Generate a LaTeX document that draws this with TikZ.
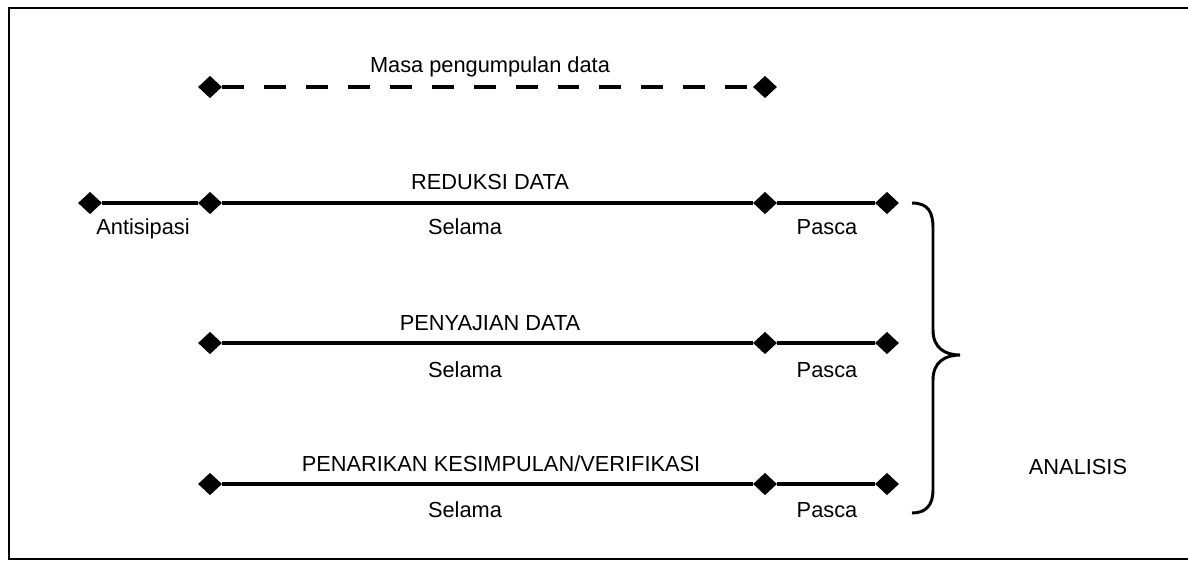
\documentclass[tikz,border=0pt]{standalone}
\usepackage{fontspec}
\setmainfont{Liberation Sans}
\usetikzlibrary{shapes.geometric}

\begin{document}
\begin{tikzpicture}[x=0.025cm,y=-0.025cm]
                \tikzset{point/.style = {shape=diamond,fill=black,inner sep=0pt,minimum width=0.6cm,minimum height=0.56cm}}
                \tikzset{line/.style = {line width=3pt}}
                \tikzset{label/.style = {anchor=base,inner sep=0pt,font=\fontsize{15.5}{18}\selectfont}}
                \useasboundingbox (0,0) rectangle (1188,561);
                % frame
                \draw[line width=2.1pt] (1188,8) -- (9,8) -- (9,559) -- (1188,559);

                % vertices
                \node[point] (d1) at (210,87) {};
                \node[point] (d2) at (765,87) {};
                \node[point] (r0) at (90,203) {};
                \node[point] (r1) at (210,203) {};
                \node[point] (r2) at (765,203) {};
                \node[point] (r3) at (887,203) {};
                \node[point] (p1) at (210,343) {};
                \node[point] (p2) at (765,343) {};
                \node[point] (p3) at (887,343) {};
                \node[point] (k1) at (210,484) {};
                \node[point] (k2) at (765,484) {};
                \node[point] (k3) at (887,484) {};

                % labels
                \node[label] (masa) at (490,72) {Masa pengumpulan data};
                \node[label] (reduksi) at (490,189) {REDUKSI DATA};
                \node[label] (antisipasi) at (143,234) {Antisipasi};
                \node[label] (selama1) at (465,234) {Selama};
                \node[label] (pasca1) at (827,234) {Pasca};
                \node[label] (penyajian) at (490,330) {PENYAJIAN DATA};
                \node[label] (selama2) at (465,377) {Selama};
                \node[label] (pasca2) at (827,377) {Pasca};
                \node[label] (penarikan) at (501,471) {PENARIKAN KESIMPULAN/VERIFIKASI};
                \node[label] (selama3) at (465,517) {Selama};
                \node[label] (pasca3) at (827,517) {Pasca};
                \node[label] (analisis) at (1078,474) {ANALISIS};

                %edges
                \draw[line width=3.5pt, dash pattern=on 15.6pt off 14.2pt] (d1) to (d2);
                \draw[line] (r0) to (r1);
                \draw[line] (r1) to (r2);
                \draw[line] (r2) to (r3);
                \draw[line] (p1) to (p2);
                \draw[line] (p2) to (p3);
                \draw[line] (k1) to (k2);
                \draw[line] (k2) to (k3);

                % brace
                \draw[line width=2.1pt] (912,203) .. controls (928,203) and (933,212) .. (933,228)
                    -- (933,330) .. controls (933,348) and (945,355) .. (960,355)
                    .. controls (945,355) and (933,362) .. (933,380)
                    -- (933,490) .. controls (933,505) and (926,513) .. (912,513);
\end{tikzpicture}
\end{document}
